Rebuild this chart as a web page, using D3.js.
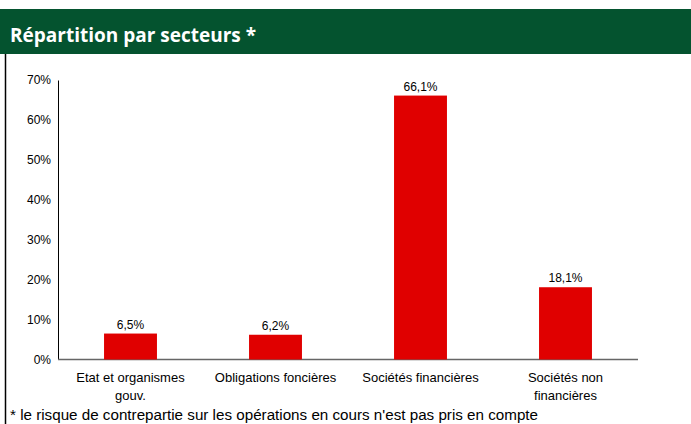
<!DOCTYPE html>
<html>
<head>
<meta charset="utf-8">
<script src="https://cdn.jsdelivr.net/npm/d3@7"></script>
<style>
	body { margin: 0; background: #fff; }
	svg { display: block; }
</style>
</head>
<body>
<div id="chart"></div>
<script>
	const categories = [['Etat et organismes', 'gouv.'], ['Obligations foncières'], ['Sociétés financières'], ['Sociétés non', 'financières']];
	const values = [6.5, 6.2, 66.1, 18.1];
	const valueLabels = ['6,5%', '6,2%', '66,1%', '18,1%'];
	const yTicks = [0, 10, 20, 30, 40, 50, 60, 70];
	const title = 'Répartition par secteurs *';
	const footnote = "* le risque de contrepartie sur les opérations en cours n'est pas pris en compte";

	const W = 691, H = 424;
	const plot = { left: 58, right: 638, top: 80, bottom: 359.5 };

	const svg = d3.select('#chart')
		.append('svg')
		.attr('width', W)
		.attr('height', H);

	//Header band
	svg.append('rect')
		.attr('x', 0).attr('y', 9)
		.attr('width', W).attr('height', 45)
		.attr('fill', '#04532f');

	svg.append('text')
		.attr('x', 10).attr('y', 42)
		.attr('fill', '#fff')
		.style('font-family', '"Open Sans", sans-serif')
		.style('font-weight', 'bold')
		.style('font-size', '19px')
		.text(title);

	//Left border of the frame
	svg.append('line')
		.attr('x1', 5.5).attr('x2', 5.5)
		.attr('y1', 54).attr('y2', H)
		.attr('stroke', '#000')
		.attr('stroke-width', 1.5);

	let xScale = d3.scaleBand()
		.domain(categories.map((d, i) => i))
		.range([plot.left, plot.right])
		.paddingInner(0.635)
		.paddingOuter(0.3175);

	let yScale = d3.scaleLinear()
		.domain([0, 70])
		.range([plot.bottom, plot.top]);

	//Y axis: line only, labels on the left
	svg.append('g')
		.attr('transform', `translate(${plot.left}, 0)`)
		.call(d3.axisLeft(yScale).tickValues(yTicks).tickSize(0).tickPadding(7).tickFormat(d => d + '%'))
		.call(g => g.select('.domain').attr('stroke', '#000'))
		.selectAll('text')
		.style('font-family', '"Liberation Sans", Arial, sans-serif')
		.style('font-size', '12px')
		.attr('fill', '#000');

	//X axis line
	svg.append('line')
		.attr('x1', plot.left).attr('x2', plot.right)
		.attr('y1', plot.bottom).attr('y2', plot.bottom)
		.attr('stroke', '#666')
		.attr('stroke-width', 1.5);

	//Bars
	svg.selectAll('rect.bar')
		.data(values)
		.enter()
		.append('rect')
		.attr('class', 'bar')
		.attr('x', (d, i) => xScale(i))
		.attr('y', d => yScale(d))
		.attr('width', xScale.bandwidth())
		.attr('height', d => yScale(0) - yScale(d))
		.attr('fill', '#e00000');

	//Value labels
	svg.selectAll('text.val')
		.data(values)
		.enter()
		.append('text')
		.attr('class', 'val')
		.attr('x', (d, i) => xScale(i) + xScale.bandwidth() / 2)
		.attr('y', d => yScale(d) - 5)
		.attr('text-anchor', 'middle')
		.style('font-family', '"Liberation Sans", Arial, sans-serif')
		.style('font-size', '12px')
		.text((d, i) => valueLabels[i]);

	//Category labels
	let cats = svg.selectAll('text.cat')
		.data(categories)
		.enter()
		.append('text')
		.attr('class', 'cat')
		.attr('x', (d, i) => xScale(i) + xScale.bandwidth() / 2)
		.attr('y', 381.5)
		.attr('text-anchor', 'middle')
		.style('font-family', '"Liberation Sans", Arial, sans-serif')
		.style('font-size', '13px');

	cats.selectAll('tspan')
		.data(d => d)
		.enter()
		.append('tspan')
		.attr('x', function () { return d3.select(this.parentNode).attr('x'); })
		.attr('dy', (d, j) => j === 0 ? 0 : 18)
		.text(d => d);

	//Footnote
	svg.append('text')
		.attr('x', 10).attr('y', 420)
		.style('font-family', '"Liberation Sans", Arial, sans-serif')
		.style('font-size', '15.2px')
		.text(footnote);
</script>
</body>
</html>
